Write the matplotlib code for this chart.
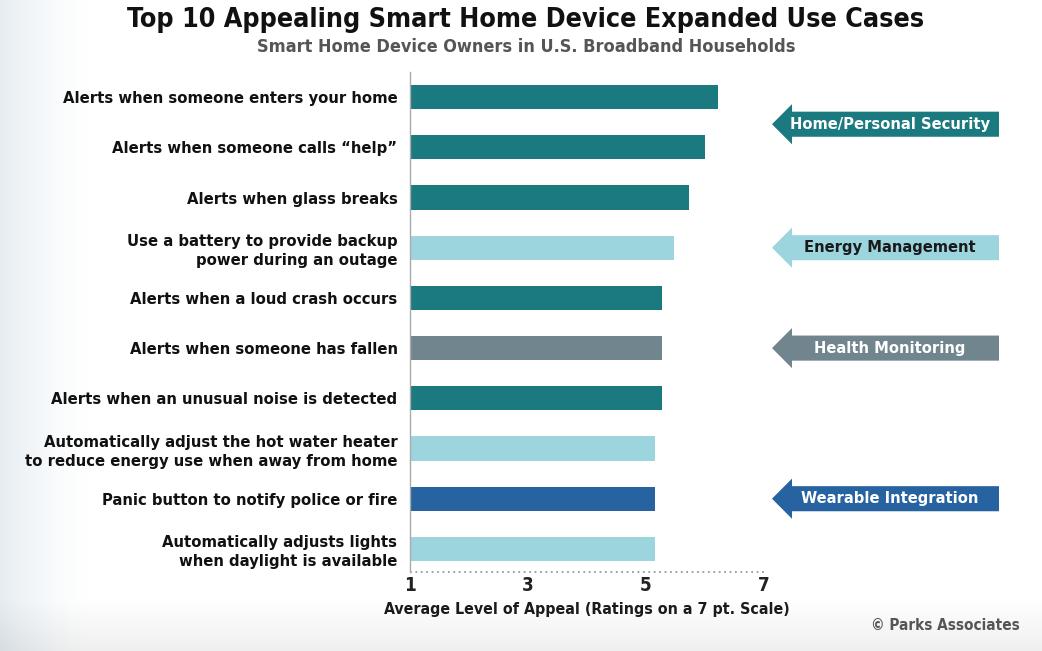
import numpy as np
import matplotlib
matplotlib.use('Agg')
import matplotlib.pyplot as plt
from matplotlib.patches import Polygon
import matplotlib.transforms as mtransforms

plt.rcParams['font.family'] = ['DejaVu Sans']
plt.rcParams['font.stretch'] = 'condensed'

# data
labels = [
    'Alerts when someone enters your home',
    'Alerts when someone calls \u201chelp\u201d',
    'Alerts when glass breaks',
    'Use a battery to provide backup\npower during an outage',
    'Alerts when a loud crash occurs',
    'Alerts when someone has fallen',
    'Alerts when an unusual noise is detected',
    'Automatically adjust the hot water heater\nto reduce energy use when away from home',
    'Panic button to notify police or fire',
    'Automatically adjusts lights\nwhen daylight is available',
]
values = [6.22, 6.0, 5.73, 5.47, 5.27, 5.27, 5.27, 5.15, 5.15, 5.15]
groups = ['sec', 'sec', 'sec', 'energy', 'sec', 'health', 'sec', 'energy', 'wear', 'energy']
xticks = [1, 3, 5, 7]

colors = {'sec': '#1b7a80', 'energy': '#9dd5df', 'health': '#71858f', 'wear': '#2763a0'}
# arrow legend: name, group, y position (in bar units), text colour
arrows = [
    ('Home/Personal Security', 'sec', 0.54, 'white'),
    ('Energy Management', 'energy', 3.0, '#1a1a1a'),
    ('Health Monitoring', 'health', 5.0, 'white'),
    ('Wearable Integration', 'wear', 8.0, 'white'),
]

W, H = 1042, 651
fig = plt.figure(figsize=(W / 100, H / 100), dpi=100)
renderer = fig.canvas.get_renderer()


def fit(txt, target_px):
    # shrink/grow a text so its rendered width matches the reference
    w = txt.get_window_extent(renderer).width
    txt.set_fontsize(txt.get_fontsize() * target_px / w)
    return txt.get_fontsize()


# soft background: bluish fade on left, grey fade at bottom
bg = fig.add_axes([0, 0, 1, 1], zorder=-10)
xx = np.linspace(0, 1, W)
yy = np.linspace(0, 1, H)
left = np.clip(1 - xx * W / 90, 0, 1)[None, :] ** 1.5
bottom = np.clip((yy * H - 600) / 51, 0, 1)[:, None]
img = np.ones((H, W, 3))
img -= left[..., None] * np.array([0.10, 0.07, 0.05])
img -= bottom[..., None] * np.array([0.06, 0.06, 0.06])
bg.imshow(img, aspect='auto', extent=[0, 1, 0, 1])
bg.axis('off')

ax = fig.add_axes([410 / W, (H - 572) / H, 354 / W, 500 / H])
ax.set_facecolor('none')
y = np.arange(len(values))
ax.barh(y, [v - 1 for v in values], left=1, height=0.48,
        color=[colors[g] for g in groups], edgecolor='none')
ax.set_xlim(1, 7)
ax.set_ylim(9.46, -0.5)
ax.set_yticks(y)
ax.set_yticklabels(labels, fontsize=14, fontweight='bold', color='#111111',
                   linespacing=1.3)
ax.tick_params(axis='y', length=0, pad=9)
ax.set_xticks(xticks)
ax.set_xticklabels([str(t) for t in xticks], fontsize=13.5, fontweight='bold',
                   color='#222222')
ax.tick_params(axis='x', length=0, pad=3)
for s in ['top', 'right', 'bottom']:
    ax.spines[s].set_visible(False)
ax.spines['left'].set_color('#aaaaaa')
ax.spines['left'].set_linewidth(1)
ax.axhline(9.46, color='#999999', linestyle=(0, (1, 2)), linewidth=1.3, clip_on=False)
xl = ax.set_xlabel('Average Level of Appeal (Ratings on a 7 pt. Scale)', fontsize=15,
                   fontweight='bold', color='#1a1a1a', labelpad=5)
fit(xl, 405)

# y labels: fit on the first one, apply to all
fig.canvas.draw()
ylabs = ax.get_yticklabels()
fs = fit(ylabs[0], 335)
for t in ylabs:
    t.set_fontsize(fs)

# arrows in the right margin
tr = mtransforms.blended_transform_factory(fig.transFigure, ax.transData)
arrow_texts = []
for name, g, yc, tc in arrows:
    tip, neck, end = 772 / W, 792 / W, 999 / W
    bh, hh = 0.25, 0.40
    pts = [(tip, yc), (neck, yc - hh), (neck, yc - bh), (end, yc - bh),
           (end, yc + bh), (neck, yc + bh), (neck, yc + hh)]
    fig.patches.append(Polygon(pts, closed=True, transform=tr, facecolor=colors[g],
                               edgecolor='none', figure=fig))
    arrow_texts.append(fig.text(890 / W, yc, name, transform=tr, ha='center',
                                va='center', fontsize=15, fontweight='bold', color=tc))
fs = fit(arrow_texts[0], 200)
for t in arrow_texts:
    t.set_fontsize(fs)

title = fig.text(526 / W, 1 - 20 / H, 'Top 10 Appealing Smart Home Device Expanded Use Cases',
                 ha='center', va='center', fontsize=21, fontweight='bold', color='#111111')
fit(title, 797)
sub = fig.text(526 / W, 1 - 47 / H, 'Smart Home Device Owners in U.S. Broadband Households',
               ha='center', va='center', fontsize=14, fontweight='bold', color='#555555')
fit(sub, 542)
cp = fig.text(1020 / W, 1 - 625 / H, '\u00a9 Parks Associates', ha='right', va='center',
              fontsize=14, fontweight='bold', color='#555555')
fit(cp, 150)

fig.savefig('out.png', dpi=100)
